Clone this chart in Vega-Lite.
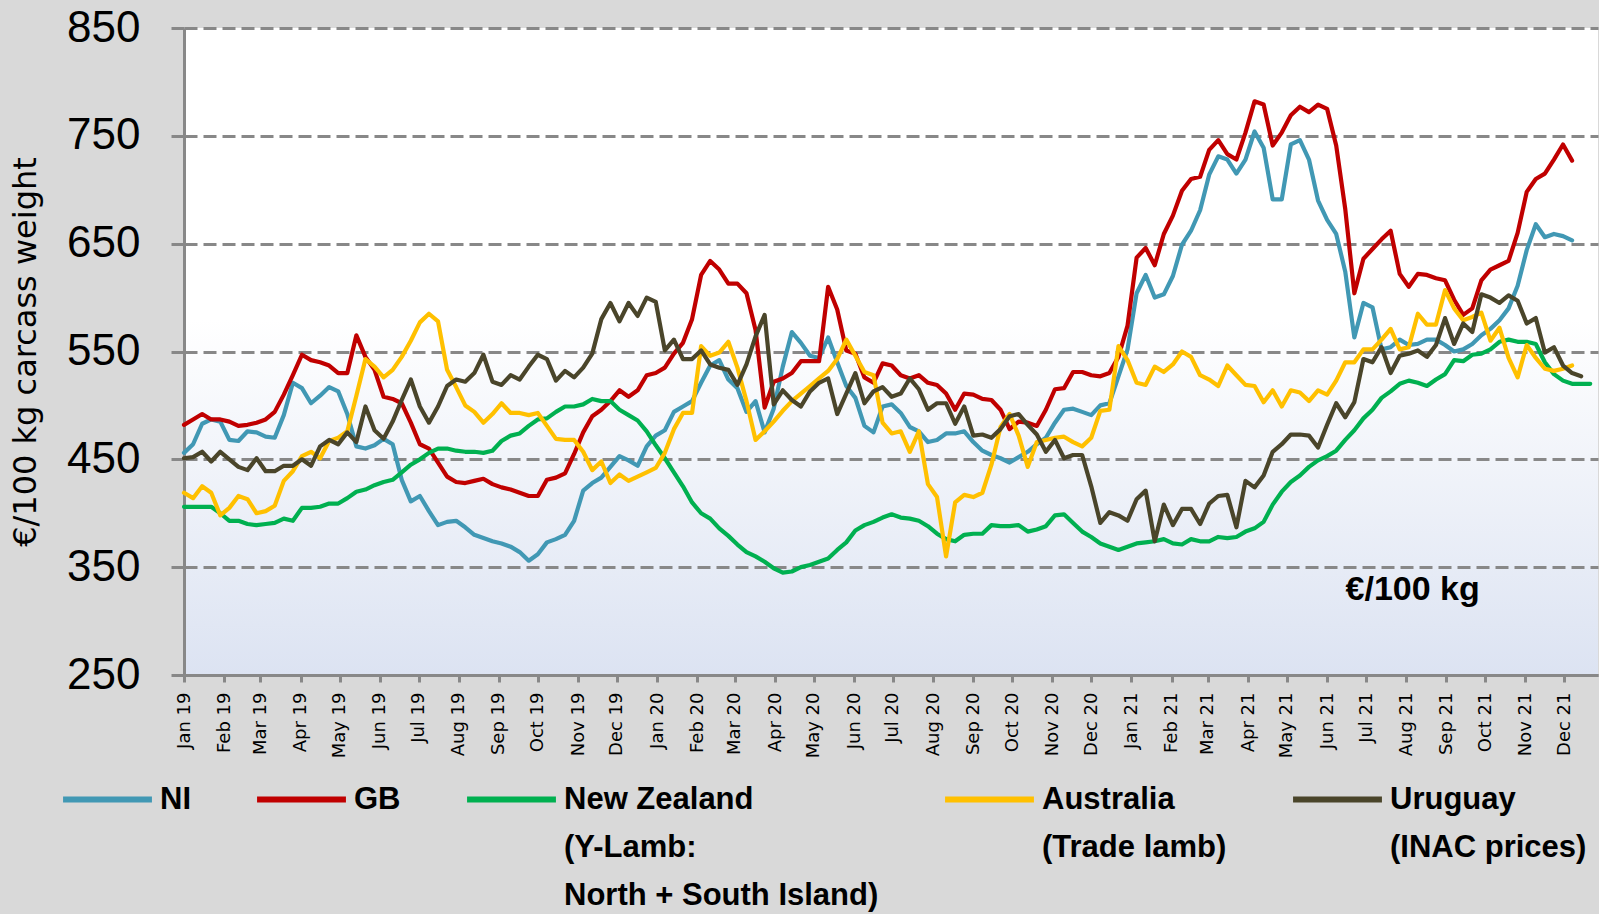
{
  "$schema": "https://vega.github.io/schema/vega-lite/v6.json",
  "width": 1414,
  "height": 647,
  "autosize": {"type": "none"},
  "padding": {"left": 184, "top": 28, "right": 1, "bottom": 239},
  "background": "#D9D9D9",
  "config": {
    "view": {"stroke": null, "fill": {"gradient": "linear", "x1": 0, "y1": 0, "x2": 0, "y2": 1, "stops": [{"offset": 0, "color": "#FFFFFF"}, {"offset": 0.45, "color": "#FFFFFF"}, {"offset": 1, "color": "#DCE3F2"}]}}
  },
  "layer": [
    {
      "data": {"values": [
        {"d":"2019-01-01","NI":456,"GB":482,"NZ":406,"AU":419,"UY":451},
        {"d":"2019-01-08","NI":464,"GB":487,"NZ":406,"AU":414,"UY":452},
        {"d":"2019-01-15","NI":483,"GB":492,"NZ":406,"AU":425,"UY":457},
        {"d":"2019-01-22","NI":487,"GB":487,"NZ":406,"AU":419,"UY":448},
        {"d":"2019-01-29","NI":485,"GB":487,"NZ":400,"AU":398,"UY":457},
        {"d":"2019-02-05","NI":468,"GB":485,"NZ":393,"AU":405,"UY":450},
        {"d":"2019-02-12","NI":467,"GB":481,"NZ":393,"AU":416,"UY":443},
        {"d":"2019-02-19","NI":476,"GB":482,"NZ":390,"AU":413,"UY":440},
        {"d":"2019-02-26","NI":475,"GB":484,"NZ":389,"AU":400,"UY":451},
        {"d":"2019-03-05","NI":471,"GB":487,"NZ":390,"AU":402,"UY":439},
        {"d":"2019-03-12","NI":470,"GB":494,"NZ":391,"AU":407,"UY":439},
        {"d":"2019-03-19","NI":491,"GB":510,"NZ":395,"AU":430,"UY":444},
        {"d":"2019-03-26","NI":521,"GB":528,"NZ":393,"AU":439,"UY":444},
        {"d":"2019-04-02","NI":516,"GB":547,"NZ":405,"AU":453,"UY":450},
        {"d":"2019-04-09","NI":502,"GB":542,"NZ":405,"AU":457,"UY":444},
        {"d":"2019-04-16","NI":509,"GB":540,"NZ":406,"AU":451,"UY":462},
        {"d":"2019-04-23","NI":517,"GB":537,"NZ":409,"AU":467,"UY":468},
        {"d":"2019-04-30","NI":513,"GB":530,"NZ":409,"AU":470,"UY":464},
        {"d":"2019-05-07","NI":492,"GB":530,"NZ":414,"AU":476,"UY":475},
        {"d":"2019-05-14","NI":462,"GB":565,"NZ":420,"AU":509,"UY":466},
        {"d":"2019-05-21","NI":460,"GB":545,"NZ":422,"AU":543,"UY":499},
        {"d":"2019-05-28","NI":463,"GB":533,"NZ":426,"AU":536,"UY":477},
        {"d":"2019-06-04","NI":469,"GB":508,"NZ":429,"AU":526,"UY":469},
        {"d":"2019-06-11","NI":464,"GB":506,"NZ":431,"AU":533,"UY":485},
        {"d":"2019-06-18","NI":431,"GB":502,"NZ":438,"AU":545,"UY":505},
        {"d":"2019-06-25","NI":411,"GB":484,"NZ":445,"AU":560,"UY":524},
        {"d":"2019-07-02","NI":416,"GB":464,"NZ":450,"AU":577,"UY":499},
        {"d":"2019-07-09","NI":402,"GB":460,"NZ":456,"AU":585,"UY":484},
        {"d":"2019-07-16","NI":389,"GB":447,"NZ":460,"AU":578,"UY":499},
        {"d":"2019-07-23","NI":392,"GB":434,"NZ":460,"AU":533,"UY":518},
        {"d":"2019-07-30","NI":393,"GB":429,"NZ":458,"AU":517,"UY":524},
        {"d":"2019-08-06","NI":387,"GB":428,"NZ":457,"AU":500,"UY":522},
        {"d":"2019-08-13","NI":380,"GB":430,"NZ":457,"AU":494,"UY":530},
        {"d":"2019-08-20","NI":377,"GB":432,"NZ":456,"AU":484,"UY":547},
        {"d":"2019-08-27","NI":374,"GB":427,"NZ":458,"AU":492,"UY":522},
        {"d":"2019-09-03","NI":372,"GB":424,"NZ":467,"AU":502,"UY":519},
        {"d":"2019-09-10","NI":369,"GB":422,"NZ":472,"AU":493,"UY":528},
        {"d":"2019-09-17","NI":364,"GB":419,"NZ":474,"AU":493,"UY":524},
        {"d":"2019-09-24","NI":356,"GB":416,"NZ":481,"AU":491,"UY":536},
        {"d":"2019-10-01","NI":362,"GB":416,"NZ":487,"AU":493,"UY":547},
        {"d":"2019-10-08","NI":373,"GB":431,"NZ":488,"AU":481,"UY":543},
        {"d":"2019-10-15","NI":376,"GB":433,"NZ":494,"AU":469,"UY":523},
        {"d":"2019-10-22","NI":380,"GB":437,"NZ":499,"AU":468,"UY":532},
        {"d":"2019-10-29","NI":393,"GB":455,"NZ":499,"AU":468,"UY":526},
        {"d":"2019-11-05","NI":421,"GB":475,"NZ":501,"AU":457,"UY":535},
        {"d":"2019-11-12","NI":428,"GB":490,"NZ":506,"AU":440,"UY":548},
        {"d":"2019-11-19","NI":433,"GB":496,"NZ":504,"AU":448,"UY":580},
        {"d":"2019-11-26","NI":443,"GB":504,"NZ":504,"AU":428,"UY":595},
        {"d":"2019-12-03","NI":453,"GB":514,"NZ":496,"AU":436,"UY":578},
        {"d":"2019-12-10","NI":449,"GB":508,"NZ":491,"AU":430,"UY":595},
        {"d":"2019-12-17","NI":444,"GB":514,"NZ":486,"AU":434,"UY":583},
        {"d":"2019-12-24","NI":462,"GB":528,"NZ":476,"AU":438,"UY":600},
        {"d":"2019-12-31","NI":472,"GB":530,"NZ":463,"AU":442,"UY":596},
        {"d":"2020-01-07","NI":477,"GB":535,"NZ":451,"AU":456,"UY":551},
        {"d":"2020-01-14","NI":494,"GB":548,"NZ":438,"AU":478,"UY":561},
        {"d":"2020-01-21","NI":499,"GB":558,"NZ":425,"AU":493,"UY":543},
        {"d":"2020-01-28","NI":504,"GB":580,"NZ":410,"AU":493,"UY":543},
        {"d":"2020-02-04","NI":521,"GB":621,"NZ":400,"AU":555,"UY":551},
        {"d":"2020-02-11","NI":537,"GB":634,"NZ":395,"AU":546,"UY":538},
        {"d":"2020-02-18","NI":542,"GB":626,"NZ":386,"AU":549,"UY":535},
        {"d":"2020-02-25","NI":524,"GB":613,"NZ":379,"AU":559,"UY":533},
        {"d":"2020-03-03","NI":516,"GB":613,"NZ":371,"AU":535,"UY":519},
        {"d":"2020-03-10","NI":494,"GB":604,"NZ":364,"AU":504,"UY":538},
        {"d":"2020-03-17","NI":504,"GB":570,"NZ":360,"AU":468,"UY":564},
        {"d":"2020-03-24","NI":475,"GB":498,"NZ":355,"AU":476,"UY":584},
        {"d":"2020-03-31","NI":497,"GB":522,"NZ":349,"AU":485,"UY":501},
        {"d":"2020-04-07","NI":536,"GB":525,"NZ":345,"AU":495,"UY":514},
        {"d":"2020-04-14","NI":568,"GB":530,"NZ":346,"AU":504,"UY":505},
        {"d":"2020-04-21","NI":558,"GB":541,"NZ":350,"AU":511,"UY":499},
        {"d":"2020-04-28","NI":546,"GB":541,"NZ":352,"AU":518,"UY":513},
        {"d":"2020-05-05","NI":544,"GB":541,"NZ":355,"AU":525,"UY":521},
        {"d":"2020-05-12","NI":563,"GB":610,"NZ":358,"AU":532,"UY":525},
        {"d":"2020-05-19","NI":540,"GB":589,"NZ":366,"AU":543,"UY":492},
        {"d":"2020-05-26","NI":518,"GB":551,"NZ":373,"AU":561,"UY":511},
        {"d":"2020-06-02","NI":507,"GB":548,"NZ":384,"AU":546,"UY":530},
        {"d":"2020-06-09","NI":481,"GB":526,"NZ":389,"AU":531,"UY":502},
        {"d":"2020-06-16","NI":475,"GB":521,"NZ":392,"AU":528,"UY":513},
        {"d":"2020-06-23","NI":499,"GB":539,"NZ":396,"AU":484,"UY":517},
        {"d":"2020-06-30","NI":501,"GB":537,"NZ":399,"AU":474,"UY":508},
        {"d":"2020-07-07","NI":493,"GB":528,"NZ":396,"AU":476,"UY":511},
        {"d":"2020-07-14","NI":480,"GB":525,"NZ":395,"AU":457,"UY":525},
        {"d":"2020-07-21","NI":476,"GB":528,"NZ":393,"AU":476,"UY":515},
        {"d":"2020-07-28","NI":466,"GB":521,"NZ":388,"AU":427,"UY":496},
        {"d":"2020-08-04","NI":468,"GB":519,"NZ":381,"AU":415,"UY":502},
        {"d":"2020-08-11","NI":474,"GB":511,"NZ":376,"AU":360,"UY":502},
        {"d":"2020-08-18","NI":474,"GB":496,"NZ":374,"AU":410,"UY":483},
        {"d":"2020-08-25","NI":476,"GB":511,"NZ":380,"AU":417,"UY":499},
        {"d":"2020-09-01","NI":466,"GB":510,"NZ":381,"AU":415,"UY":472},
        {"d":"2020-09-08","NI":458,"GB":506,"NZ":381,"AU":419,"UY":473},
        {"d":"2020-09-15","NI":454,"GB":505,"NZ":389,"AU":445,"UY":470},
        {"d":"2020-09-22","NI":451,"GB":496,"NZ":388,"AU":480,"UY":478},
        {"d":"2020-09-29","NI":447,"GB":478,"NZ":388,"AU":492,"UY":490},
        {"d":"2020-10-06","NI":452,"GB":485,"NZ":389,"AU":472,"UY":492},
        {"d":"2020-10-13","NI":457,"GB":484,"NZ":383,"AU":443,"UY":482},
        {"d":"2020-10-20","NI":464,"GB":481,"NZ":385,"AU":466,"UY":473},
        {"d":"2020-10-27","NI":470,"GB":496,"NZ":388,"AU":468,"UY":457},
        {"d":"2020-11-03","NI":484,"GB":515,"NZ":398,"AU":470,"UY":468},
        {"d":"2020-11-10","NI":496,"GB":516,"NZ":399,"AU":471,"UY":451},
        {"d":"2020-11-17","NI":497,"GB":531,"NZ":391,"AU":466,"UY":454},
        {"d":"2020-11-24","NI":494,"GB":531,"NZ":383,"AU":462,"UY":454},
        {"d":"2020-12-01","NI":491,"GB":528,"NZ":378,"AU":470,"UY":425},
        {"d":"2020-12-08","NI":500,"GB":527,"NZ":372,"AU":495,"UY":391},
        {"d":"2020-12-15","NI":502,"GB":530,"NZ":369,"AU":496,"UY":401},
        {"d":"2020-12-22","NI":527,"GB":545,"NZ":366,"AU":555,"UY":398},
        {"d":"2020-12-29","NI":552,"GB":574,"NZ":369,"AU":542,"UY":393},
        {"d":"2021-01-05","NI":604,"GB":637,"NZ":372,"AU":521,"UY":413},
        {"d":"2021-01-12","NI":621,"GB":646,"NZ":373,"AU":519,"UY":421},
        {"d":"2021-01-19","NI":600,"GB":630,"NZ":374,"AU":536,"UY":374},
        {"d":"2021-01-26","NI":603,"GB":659,"NZ":376,"AU":531,"UY":408},
        {"d":"2021-02-02","NI":620,"GB":676,"NZ":372,"AU":538,"UY":389},
        {"d":"2021-02-09","NI":649,"GB":699,"NZ":371,"AU":550,"UY":404},
        {"d":"2021-02-16","NI":662,"GB":710,"NZ":376,"AU":545,"UY":404},
        {"d":"2021-02-23","NI":681,"GB":712,"NZ":374,"AU":528,"UY":390},
        {"d":"2021-03-02","NI":714,"GB":737,"NZ":374,"AU":524,"UY":409},
        {"d":"2021-03-09","NI":731,"GB":746,"NZ":378,"AU":518,"UY":416},
        {"d":"2021-03-16","NI":728,"GB":733,"NZ":377,"AU":537,"UY":417},
        {"d":"2021-03-23","NI":715,"GB":728,"NZ":378,"AU":528,"UY":387},
        {"d":"2021-03-30","NI":728,"GB":753,"NZ":383,"AU":519,"UY":430},
        {"d":"2021-04-06","NI":754,"GB":782,"NZ":386,"AU":518,"UY":424},
        {"d":"2021-04-13","NI":739,"GB":779,"NZ":392,"AU":503,"UY":435},
        {"d":"2021-04-20","NI":691,"GB":741,"NZ":408,"AU":514,"UY":457},
        {"d":"2021-04-27","NI":691,"GB":753,"NZ":420,"AU":499,"UY":464},
        {"d":"2021-05-04","NI":742,"GB":769,"NZ":429,"AU":514,"UY":473},
        {"d":"2021-05-11","NI":746,"GB":777,"NZ":435,"AU":512,"UY":473},
        {"d":"2021-05-18","NI":728,"GB":772,"NZ":443,"AU":504,"UY":472},
        {"d":"2021-05-25","NI":690,"GB":779,"NZ":449,"AU":514,"UY":461},
        {"d":"2021-06-01","NI":672,"GB":775,"NZ":453,"AU":510,"UY":482},
        {"d":"2021-06-08","NI":659,"GB":741,"NZ":458,"AU":523,"UY":502},
        {"d":"2021-06-15","NI":624,"GB":682,"NZ":468,"AU":540,"UY":489},
        {"d":"2021-06-22","NI":563,"GB":604,"NZ":477,"AU":540,"UY":503},
        {"d":"2021-06-29","NI":595,"GB":636,"NZ":488,"AU":552,"UY":543},
        {"d":"2021-07-06","NI":591,"GB":645,"NZ":496,"AU":552,"UY":540},
        {"d":"2021-07-13","NI":552,"GB":654,"NZ":507,"AU":561,"UY":554},
        {"d":"2021-07-20","NI":554,"GB":662,"NZ":513,"AU":571,"UY":530},
        {"d":"2021-07-27","NI":561,"GB":622,"NZ":520,"AU":552,"UY":546},
        {"d":"2021-08-03","NI":556,"GB":610,"NZ":523,"AU":554,"UY":548},
        {"d":"2021-08-10","NI":557,"GB":622,"NZ":521,"AU":585,"UY":551},
        {"d":"2021-08-17","NI":561,"GB":621,"NZ":518,"AU":575,"UY":545},
        {"d":"2021-08-24","NI":561,"GB":618,"NZ":524,"AU":575,"UY":556},
        {"d":"2021-08-31","NI":556,"GB":616,"NZ":529,"AU":607,"UY":581},
        {"d":"2021-09-07","NI":550,"GB":598,"NZ":542,"AU":590,"UY":557},
        {"d":"2021-09-14","NI":552,"GB":584,"NZ":541,"AU":579,"UY":576},
        {"d":"2021-09-21","NI":557,"GB":590,"NZ":547,"AU":582,"UY":568},
        {"d":"2021-09-28","NI":565,"GB":616,"NZ":548,"AU":586,"UY":603},
        {"d":"2021-10-05","NI":571,"GB":626,"NZ":552,"AU":560,"UY":600},
        {"d":"2021-10-12","NI":579,"GB":630,"NZ":559,"AU":572,"UY":595},
        {"d":"2021-10-19","NI":590,"GB":634,"NZ":561,"AU":544,"UY":602},
        {"d":"2021-10-26","NI":611,"GB":660,"NZ":559,"AU":526,"UY":597},
        {"d":"2021-11-02","NI":644,"GB":698,"NZ":559,"AU":556,"UY":576},
        {"d":"2021-11-09","NI":668,"GB":710,"NZ":557,"AU":544,"UY":581},
        {"d":"2021-11-16","NI":656,"GB":715,"NZ":540,"AU":534,"UY":549},
        {"d":"2021-11-23","NI":659,"GB":728,"NZ":529,"AU":532,"UY":554},
        {"d":"2021-11-30","NI":657,"GB":742,"NZ":523,"AU":534,"UY":537},
        {"d":"2021-12-07","NI":653,"GB":727,"NZ":520,"AU":537,"UY":530},
        {"d":"2021-12-14","NZ":520,"UY":527},
        {"d":"2021-12-21","NZ":520}
      ]},
      "transform": [
        {"fold": ["NI", "GB", "NZ", "AU", "UY"], "as": ["series", "price"]},
        {"filter": "isValid(datum.price)"}
      ],
      "mark": {"type": "line", "strokeWidth": 4.2, "strokeJoin": "round", "strokeCap": "round"},
      "encoding": {
        "x": {
          "field": "d", "type": "temporal",
          "scale": {"domain": [{"year": 2019, "month": 1, "date": 1}, {"year": 2021, "month": 12, "date": 27}], "nice": false},
          "axis": {
            "title": null,
            "format": "%b %y",
            "tickCount": {"interval": "month", "step": 1},
            "labelAngle": 270,
            "labelAlign": "right",
            "labelBaseline": "middle",
            "labelFont": "DejaVu Sans",
            "labelFontSize": 18,
            "labelColor": "#000000",
            "labelPadding": 10,
            "labelOverlap": false,
            "labelFlush": false,
            "domainColor": "#888888",
            "domainWidth": 3,
            "tickColor": "#888888",
            "tickWidth": 3,
            "tickSize": 7,
            "grid": false
          }
        },
        "y": {
          "field": "price", "type": "quantitative",
          "scale": {"domain": [250, 850], "nice": false, "zero": false},
          "axis": {
            "title": "€/100 kg carcass weight",
            "titleFont": "DejaVu Sans",
            "titleFontSize": 32,
            "titleFontWeight": "normal",
            "titleColor": "#000000",
            "titlePadding": 24,
            "values": [250, 350, 450, 550, 650, 750, 850],
            "labelFont": "Liberation Sans",
            "labelFontSize": 44,
            "labelColor": "#000000",
            "labelPadding": 31,
            "domainColor": "#888888",
            "domainWidth": 3,
            "tickColor": "#888888",
            "tickWidth": 3,
            "tickSize": 13,
            "tickDash": [13, 6],
            "grid": true,
            "gridColor": "#888888",
            "gridWidth": 3,
            "gridDash": [13, 6],
            "gridOpacity": 1
          }
        },
        "color": {
          "field": "series", "type": "nominal",
          "scale": {"domain": ["NI", "GB", "NZ", "AU", "UY"], "range": ["#4198B4", "#C00000", "#00B050", "#FFC000", "#4A452A"]},
          "legend": {
            "title": null,
            "orient": "none",
            "legendX": -124,
            "legendY": 724,
            "direction": "horizontal",
            "columns": 5,
            "gridAlign": "none",
            "columnPadding": 54,
            "symbolType": "stroke",
            "symbolSize": 7900,
            "symbolStrokeWidth": 6,
            "labelFont": "Liberation Sans",
            "labelFontSize": 31,
            "labelFontWeight": "bold",
            "labelColor": "#000000",
            "labelLimit": 0,
            "labelOffset": 5,
            "labelBaseline": "middle",
            "labelExpr": "datum.label == 'NZ' ? ['New Zealand', '\u00a0(Y-Lamb:', 'North + South Island)'] : datum.label == 'AU' ? ['Australia', '(Trade lamb)'] : datum.label == 'UY' ? ['Uruguay', '(INAC prices)'] : datum.label",
            "encode": {"labels": {"update": {"lineHeight": {"value": 48}}}}
          }
        }
      }
    },
    {
      "data": {"values": [{"label": "€/100 kg"}]},
      "mark": {"type": "text", "font": "Liberation Sans", "fontSize": 34, "fontWeight": "bold", "color": "#000000", "align": "center", "baseline": "middle"},
      "encoding": {
        "x": {"datum": {"year": 2021, "month": 8, "date": 6}, "type": "temporal"},
        "y": {"datum": 329, "type": "quantitative"},
        "text": {"field": "label"}
      }
    }
  ]
}
